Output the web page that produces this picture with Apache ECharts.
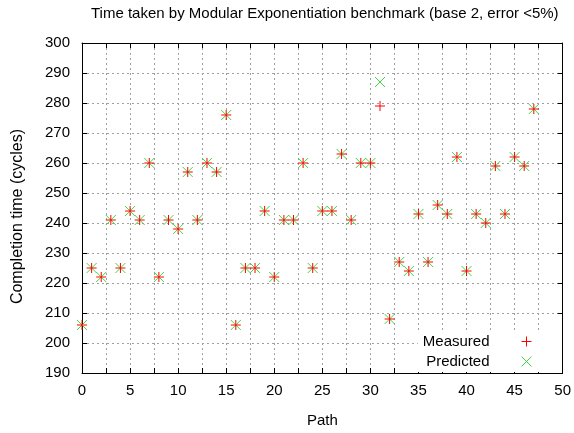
<!DOCTYPE html>
<html>
<head>
<meta charset="utf-8">
<script src="https://cdn.jsdelivr.net/npm/echarts@6/dist/echarts.min.js"></script>
<style>
html,body{margin:0;padding:0;background:#fff;}
#chart{width:574px;height:433px;}
</style>
</head>
<body>
<div id="chart"></div>
<script>
var paths = [0,1,2,3,4,5,6,7,8,9,10,11,12,13,14,15,16,17,18,19,20,21,22,23,24,25,26,27,28,29,30,31,32,33,34,35,36,37,38,39,40,41,42,43,44,45,46,47];
var measured = [206,225,222,241,225,244,241,260,222,241,238,257,241,260,257,276,206,225,225,244,222,241,241,260,225,244,244,263,241,260,260,279,208,227,224,243,227,246,243,262,224,243,240,259,243,262,259,278];
var predicted = [206,225,222,241,225,244,241,260,222,241,238,257,241,260,257,276,206,225,225,244,222,241,241,260,225,244,244,263,241,260,260,287,208,227,224,243,227,246,243,262,224,243,240,259,243,262,259,278];
var xTickLabels = [0,5,10,15,20,25,30,35,40,45,50];
var yTickLabels = [190,200,210,220,230,240,250,260,270,280,290,300];
var seriesNames = ['Measured','Predicted'];
var titleText = 'Time taken by Modular Exponentiation benchmark (base 2, error <5%)';
var xName = 'Path';
var yName = 'Completion time (cycles)';

var FONT = "'Liberation Sans', Arial, sans-serif";
var PLUS = 'path://M5,0L5,10M0,5L10,5';
var CROSS = 'path://M0,0L10,10M10,0L0,10';
var RED = '#ff0000';
var GREEN = '#44d444';

var chart = echarts.init(document.getElementById('chart'), null, {renderer:'canvas'});
var gridLine = {show:true, lineStyle:{color:'#a0a0a0', type:[2,3], width:1}};
var axLine = {show:true, onZero:false, lineStyle:{color:'#000', width:1}};
var tick = {show:true, inside:true, length:5, lineStyle:{color:'#000', width:1}};
var txt = {color:'#000', fontFamily:FONT, fontSize:15};

chart.setOption({
  animation:false,
  backgroundColor:'#fff',
  title:{text:titleText, left:86, top:1, textStyle:{color:'#000', fontFamily:FONT, fontSize:15, fontWeight:'normal'}},
  grid:{left:82, right:8, top:43, bottom:59, containLabel:false},
  legend:{
    orient:'vertical', align:'right', right:12, top:331,
    itemWidth:64, itemHeight:10, itemGap:5, padding:[3,30,3,5],
    backgroundColor:'#fff', symbolKeepAspect:true,
    itemStyle:{borderWidth:1},
    textStyle:{color:'#000', fontFamily:FONT, fontSize:15},
    data:[{name:seriesNames[0], icon:PLUS},{name:seriesNames[1], icon:CROSS}]
  },
  xAxis:[
    {type:'value', min:0, max:50, interval:2.5, position:'bottom',
     name:xName, nameLocation:'middle', nameGap:40, nameTextStyle:txt,
     axisLine:axLine, axisTick:tick, splitLine:gridLine,
     axisLabel:Object.assign({margin:10, formatter:function(v){return xTickLabels.indexOf(v)>=0?String(v):'';}}, txt)},
    {type:'value', min:0, max:50, interval:2.5, position:'top',
     axisLine:axLine, axisTick:tick, splitLine:{show:false}, axisLabel:{show:false}}
  ],
  yAxis:[
    {type:'value', min:190, max:300, interval:10, position:'left',
     name:yName, nameLocation:'middle', nameGap:56, nameRotate:90,
     nameTextStyle:{color:'#000', fontFamily:FONT, fontSize:16, padding:[0,17,0,0]},
     axisLine:axLine, axisTick:tick, splitLine:gridLine,
     axisLabel:Object.assign({margin:12, formatter:function(v){return yTickLabels.indexOf(v)>=0?String(v):'';}}, txt)},
    {type:'value', min:190, max:300, interval:10, position:'right',
     axisLine:axLine, axisTick:tick, splitLine:{show:false}, axisLabel:{show:false}}
  ],
  series:[
    {name:seriesNames[1], type:'scatter', xAxisIndex:0, yAxisIndex:0,
     symbol:CROSS, symbolSize:10, z:3,
     itemStyle:{color:GREEN, borderColor:GREEN, borderWidth:1, opacity:1},
     data:paths.map(function(p,i){return [p, predicted[i]];})},
    {name:seriesNames[0], type:'scatter', xAxisIndex:0, yAxisIndex:0,
     symbol:PLUS, symbolSize:10, z:4,
     itemStyle:{color:RED, borderColor:RED, borderWidth:1, opacity:1},
     data:paths.map(function(p,i){return [p, measured[i]];})}
  ]
});
</script>
</body>
</html>
